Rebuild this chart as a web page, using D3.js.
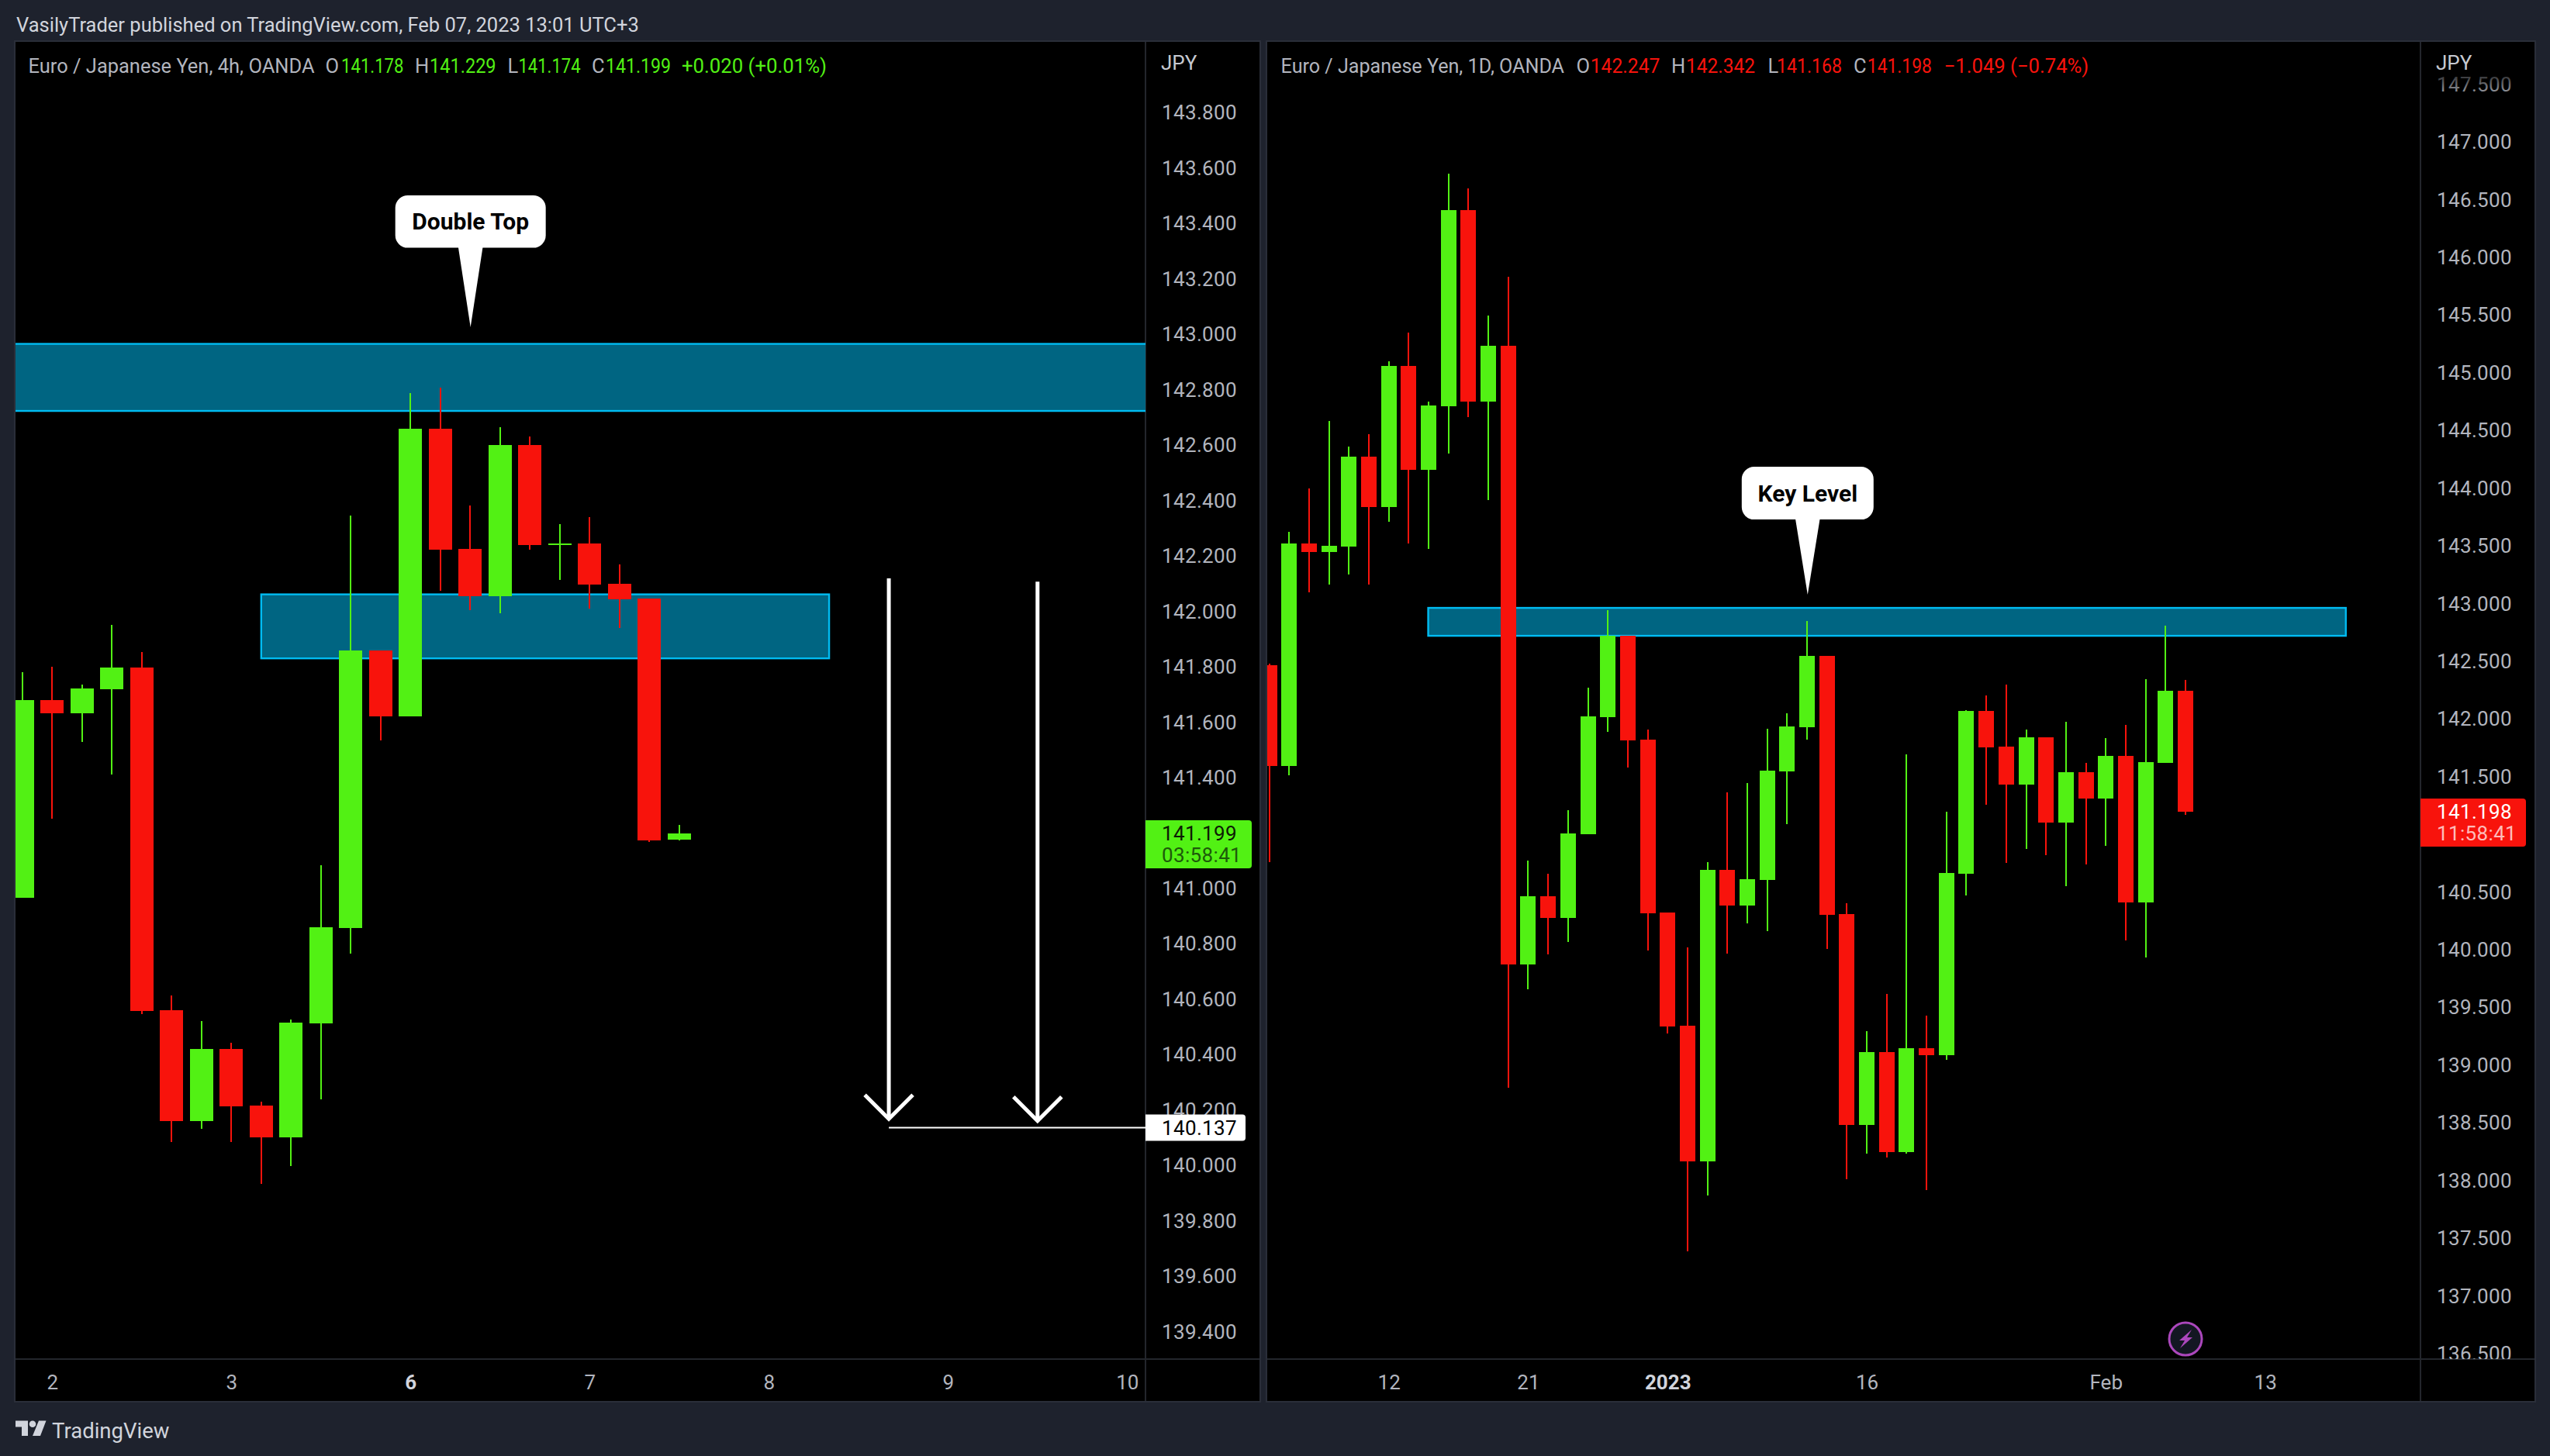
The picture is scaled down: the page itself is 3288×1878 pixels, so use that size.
<!DOCTYPE html>
<html><head><meta charset="utf-8">
<script src="https://cdn.jsdelivr.net/npm/d3@7/dist/d3.min.js"></script>
<style>html,body{margin:0;padding:0;background:#1e222d}svg{display:block}text{font-family:Roboto,"Noto Sans",sans-serif}</style>
</head><body><div id="c"></div>
<script>
// ---------- data: 4h panel ----------
const leftOpen  = [140.967,141.680,141.633,141.720,141.798,140.561,140.161,140.421,140.217,140.102,140.514,140.858,141.859,141.622,142.660,142.226,142.055,142.601,142.240,142.246,142.100,142.047,141.178];
const leftHigh  = [141.781,141.801,141.736,141.952,141.854,140.614,140.522,140.444,140.231,140.528,141.084,142.346,141.859,142.788,142.808,142.383,142.665,142.632,142.316,142.341,142.170,142.047,141.229];
const leftLow   = [140.967,141.252,141.529,141.412,140.547,140.086,140.133,140.086,139.934,139.999,140.239,140.765,141.535,141.622,142.075,142.006,141.994,142.223,142.114,142.010,141.941,141.168,141.174];
const leftClose = [141.680,141.633,141.722,141.798,140.558,140.161,140.421,140.214,140.102,140.516,140.861,141.859,141.622,142.660,142.223,142.055,142.601,142.240,142.246,142.097,142.044,141.174,141.199];
const leftPriceTicks = [143.8,143.6,143.4,143.2,143.0,142.8,142.6,142.4,142.2,142.0,141.8,141.6,141.4,141.2,141.0,140.8,140.6,140.4,140.2,140.0,139.8,139.6,139.4];
const leftTimeIdx = [1,7,13,19,25,31,37];
const leftTimeLabels = ["2","3","6","7","8","9","10"];
const leftBoldLabels = ["6"];
const leftZones = [[-1,60,142.966,142.724],[8.0,27.02,142.062,141.831]];
const leftArrows = [[29.02,142.12,140.169],[34.0,142.108,140.162]];
const targetPrice = 140.137;
const targetStartIdx = 29.02;
// ---------- data: 1D panel ----------
const rightOpen  = [142.467,141.594,143.522,143.448,143.495,144.274,143.838,145.060,144.160,144.711,146.411,144.751,145.235,139.874,140.465,140.277,141.002,142.017,142.722,141.822,140.324,139.343,138.167,140.693,140.384,140.606,141.547,141.929,142.548,140.310,138.483,139.114,138.248,139.148,139.088,140.660,142.071,141.761,141.432,141.842,141.103,141.540,141.311,141.681,140.411,141.620,142.247];
const rightHigh  = [142.480,143.623,143.999,144.583,144.362,144.469,145.101,145.349,144.751,146.727,146.599,145.497,145.833,140.774,140.660,141.211,142.272,142.944,142.722,141.909,140.324,140.021,140.760,141.365,141.446,141.916,142.050,142.850,142.548,140.404,139.296,139.618,141.694,139.430,141.197,142.077,142.205,142.299,141.909,141.842,141.977,141.620,141.835,141.950,142.346,142.810,142.342];
const rightLow   = [140.764,141.513,143.099,143.166,143.253,143.166,143.710,143.522,143.475,144.301,144.617,143.898,138.805,139.659,139.961,140.068,141.002,141.889,141.580,139.994,139.276,137.388,137.871,139.968,140.230,140.163,141.090,141.822,140.008,138.013,138.234,138.201,138.234,137.918,139.047,140.472,141.258,140.754,140.875,140.821,140.552,140.740,140.901,140.082,139.934,141.620,141.168];
const rightClose = [141.594,143.522,143.448,143.502,144.274,143.838,145.060,144.160,144.718,146.411,144.751,145.235,139.874,140.465,140.277,141.009,142.024,142.722,141.815,140.317,139.336,138.167,140.693,140.384,140.613,141.553,141.936,142.548,140.304,138.483,139.114,138.248,139.148,139.088,140.666,142.071,141.755,141.432,141.842,141.103,141.540,141.311,141.681,140.411,141.627,142.245,141.198];
const rightPriceTicks = [147.5,147,146.5,146,145.5,145,144.5,144,143.5,143,142.5,142,141.5,141,140.5,140,139.5,139,138.5,138,137.5,137,136.5];
const rightTimeIdx = [6,13,20,30,42,50];
const rightTimeLabels = ["12","21","2023","16","Feb","13"];
const rightBoldLabels = ["2023"];
const rightZones = [[7.98,54.05,142.964,142.722]];
// ---------- text ----------
const banner = "VasilyTrader published on TradingView.com, Feb 07, 2023 13:01 UTC+3";
const brand = "TradingView";
const currency = "JPY";
const leftLegend = ["Euro / Japanese Yen, 4h, OANDA","O","141.178","H","141.229","L","141.174","C","141.199","+0.020 (+0.01%)"];
const rightLegend = ["Euro / Japanese Yen, 1D, OANDA","O","142.247","H","142.342","L","141.168","C","141.198","\u22121.049 (\u22120.74%)"];
const leftCallout = {text:"Double Top", idx:15.01, price:143.026};
const rightCallout = {text:"Key Level", idx:27.03, price:143.078};
const leftLast = {price:141.199, countdown:"03:58:41"};
const rightLast = {price:141.198, countdown:"11:58:41"};

// ---------- style / layout ----------
const GREEN="#52f114", RED="#f8130c", ZONE="#006582", ZONEB="#00bcf2", BG="#1e222d", AX="#b2b5be", GRID="#23262c", EDGE="#2a2e39";
const W=3288,H=1878,TOP=54,AXY=1753,BOT=1807;
const F={banner:25.5,legend:25.5,axis:26,brand:27.5,call:30};
const svg=d3.select("#c").append("svg").attr("width",W).attr("height",H).attr("viewBox",`0 0 ${W} ${H}`);
svg.append("rect").attr("width",W).attr("height",H).attr("fill",BG);
const defs=svg.append("defs");

function panel(o){
  const g=svg.append("g");
  const cid=o.id+"clip", aid=o.id+"axclip";
  defs.append("clipPath").attr("id",cid).append("rect").attr("x",o.x0).attr("y",TOP).attr("width",o.ax-o.x0).attr("height",AXY-TOP);
  defs.append("clipPath").attr("id",aid).append("rect").attr("x",o.ax).attr("y",TOP).attr("width",o.x1-o.ax).attr("height",AXY-TOP);
  g.append("rect").attr("x",o.x0-1).attr("y",TOP-1).attr("width",o.x1-o.x0+2).attr("height",BOT-TOP+2).attr("fill","#000").attr("stroke",EDGE).attr("stroke-width",2);
  const y=d3.scaleLinear().domain(o.yDomain).range([AXY,TOP]);
  const x=d3.scaleLinear().domain(o.xDomain).range(o.xRange);
  // separators
  g.append("line").attr("x1",o.ax).attr("x2",o.ax).attr("y1",TOP).attr("y2",BOT).attr("stroke",GRID).attr("stroke-width",2);
  g.append("line").attr("x1",o.x0).attr("x2",o.x1).attr("y1",AXY).attr("y2",AXY).attr("stroke",GRID).attr("stroke-width",2);
  // price axis
  const ya=g.append("g").attr("clip-path",`url(#${aid})`).append("g").attr("transform",`translate(${o.ax},0)`)
    .call(d3.axisRight(y).tickValues(o.priceTicks).tickFormat(d3.format(".3f")).tickSize(0).tickPadding(o.labelX-o.ax));
  ya.select(".domain").remove();
  ya.selectAll("text").attr("fill",AX).attr("font-size",F.axis).attr("font-family","Roboto").attr("letter-spacing",o.ls);
  // time axis
  const xa=g.append("g").attr("transform",`translate(0,${AXY})`)
    .call(d3.axisBottom(x).tickValues(o.timeIdx).tickFormat((d,i)=>o.timeLabels[i]).tickSize(0).tickPadding(21));
  xa.select(".domain").remove();
  xa.selectAll("text").attr("fill",AX).attr("font-size",F.axis).attr("font-family","Roboto").attr("dy","0.71em")
    .attr("font-weight",(d,i)=>o.bold.includes(o.timeLabels[i])?700:400)
    .attr("fill",(d,i)=>o.bold.includes(o.timeLabels[i])?"#d1d4dc":AX);
  // JPY
  if(o.fade){
    const gr=defs.append("linearGradient").attr("id",o.id+"fade").attr("x1",0).attr("x2",0).attr("y1",0).attr("y2",1);
    gr.append("stop").attr("offset",0).attr("stop-color","#000").attr("stop-opacity",.85);
    gr.append("stop").attr("offset",1).attr("stop-color","#000").attr("stop-opacity",.05);
    g.append("rect").attr("x",o.ax+2).attr("y",92).attr("width",o.x1-o.ax-4).attr("height",32).attr("fill",`url(#${o.id}fade)`);
  }
  g.append("text").attr("x",o.labelX-1).attr("y",81).attr("dy","0.35em").attr("fill","#c6c9d1").attr("font-size",F.axis).text(currency);
  // plot
  const p=g.append("g").attr("clip-path",`url(#${cid})`);
  o.zones.forEach(z=>{
    p.append("rect").attr("x",x(z[0])).attr("y",y(z[2])).attr("width",x(z[1])-x(z[0])).attr("height",y(z[3])-y(z[2]))
     .attr("fill",ZONE).attr("stroke",ZONEB).attr("stroke-width",2.4);
  });
  const idx=d3.range(o.open.length);
  const col=i=>o.close[i]>=o.open[i]?GREEN:RED;
  p.append("g").selectAll("rect").data(idx).join("rect").attr("shape-rendering","crispEdges")
    .attr("x",i=>Math.round(x(i))-1).attr("width",2)
    .attr("y",i=>Math.round(y(o.high[i]))).attr("height",i=>Math.round(y(o.low[i]))-Math.round(y(o.high[i])))
    .attr("fill",col);
  p.append("g").selectAll("rect").data(idx).join("rect").attr("shape-rendering","crispEdges")
    .attr("x",i=>Math.round(x(i)-o.bw/2)).attr("width",o.bw)
    .attr("y",i=>Math.round(y(Math.max(o.open[i],o.close[i]))))
    .attr("height",i=>Math.max(2,Math.round(y(Math.min(o.open[i],o.close[i])))-Math.round(y(Math.max(o.open[i],o.close[i])))))
    .attr("fill",col);
  // legend
  o.legend.forEach((t,i)=>{
    const isLabel=i===0||i%2===1&&i<9;
    const el=g.append("text").attr("x",o.legendX[i]).attr("y",85).attr("dy","0.35em").attr("font-size",F.legend)
     .attr("fill",isLabel?"#b2b5be":o.legendColor).text(t);
    if(o.legendLen[i]) el.attr("textLength",o.legendLen[i]).attr("lengthAdjust","spacingAndGlyphs");
  });
  // callout
  const c=o.callout, tx=x(c.idx), ty=y(c.price);
  g.append("path").attr("fill","#fff").attr("d",`M${tx-16},${ty-o.cdrop-2} L${tx},${ty} L${tx+16},${ty-o.cdrop-2} Z`);
  g.append("rect").attr("x",tx-o.cw[0]).attr("y",ty-o.ch-o.cdrop).attr("width",o.cw[0]+o.cw[1]).attr("height",o.ch).attr("rx",16).attr("fill","#fff");
  g.append("text").attr("x",tx).attr("y",ty-o.ch/2-o.cdrop).attr("dy","0.35em").attr("text-anchor","middle").attr("font-weight",700).attr("font-size",F.call).attr("fill","#000").text(c.text);
  // last-price tag
  const ly=y(o.last.price);
  g.append("path").attr("fill",o.tagFill).attr("d",`M${o.ax},${ly-o.tagUp} H${o.tagR-4} Q${o.tagR},${ly-o.tagUp} ${o.tagR},${ly-o.tagUp+4} V${ly+o.tagDn-4} Q${o.tagR},${ly+o.tagDn} ${o.tagR-4},${ly+o.tagDn} H${o.ax} Z`);
  g.append("text").attr("x",o.labelX).attr("y",ly).attr("dy","0.35em").attr("font-size",F.axis).attr("letter-spacing",o.ls).attr("fill",o.tagText).text(d3.format(".3f")(o.last.price));
  g.append("text").attr("x",o.labelX).attr("y",ly+28).attr("dy","0.35em").attr("font-size",F.axis).attr("letter-spacing",o.ls).attr("fill",o.tagSub).text(o.last.countdown);
  return {g,x,y,p};
}

// ---------- left panel ----------
const L=panel({id:"l",x0:20,x1:1624,ax:1477,labelX:1498,ls:0.35,
  yDomain:[139.302,144.056],xDomain:[0,22],xRange:[28.8,875.8],bw:30,
  open:leftOpen,high:leftHigh,low:leftLow,close:leftClose,priceTicks:leftPriceTicks,
  timeIdx:leftTimeIdx,timeLabels:leftTimeLabels,bold:leftBoldLabels,zones:leftZones,
  legend:leftLegend,legendColor:GREEN,legendX:[36.5,419.5,440,535,554,654.5,668.5,763,781,879],
  legendLen:[369,0,80.5,0,85.6,0,80,0,84,187],
  callout:leftCallout,cw:[97,97],ch:67.5,cdrop:102.5,last:leftLast,tagFill:GREEN,tagR:1614,tagUp:17,tagDn:45,tagText:"#0d1a05",tagSub:"#1d5a0a"});
// arrows and target
leftArrows.forEach(a=>{
  const ax=L.x(a[0]), t=L.y(a[1]), b=L.y(a[2]);
  L.p.append("line").attr("x1",ax).attr("x2",ax).attr("y1",t).attr("y2",b).attr("stroke","#fff").attr("stroke-width",5);
  L.p.append("path").attr("d",`M${ax-31},${b-31} L${ax},${b} L${ax+31},${b-31}`).attr("fill","none").attr("stroke","#fff").attr("stroke-width",5);
});
const ty=L.y(targetPrice);
L.g.append("line").attr("x1",L.x(targetStartIdx)).attr("x2",1477).attr("y1",ty).attr("y2",ty).attr("stroke","#fff").attr("stroke-width",2);
L.g.append("path").attr("fill","#fff").attr("d",`M1477,${ty-17} H1602 Q1606,${ty-17} 1606,${ty-13} V${ty+13} Q1606,${ty+17} 1602,${ty+17} H1477 Z`);
L.g.append("text").attr("x",1498).attr("y",ty).attr("dy","0.35em").attr("font-size",F.axis).attr("letter-spacing",0.35).attr("fill","#000").text(d3.format(".3f")(targetPrice));

// ---------- right panel ----------
const R=panel({id:"r",x0:1634,x1:3268,ax:3121,labelX:3142,ls:0.35,fade:true,
  yDomain:[136.454,147.869],xDomain:[0,46],xRange:[1636.6,2818],bw:20,
  open:rightOpen,high:rightHigh,low:rightLow,close:rightClose,priceTicks:rightPriceTicks,
  timeIdx:rightTimeIdx,timeLabels:rightTimeLabels,bold:rightBoldLabels,zones:rightZones,
  legend:rightLegend,legendColor:RED,legendX:[1651.6,2032.5,2050.7,2155,2174,2279.4,2291,2390,2407.8,2506.7],
  legendLen:[365.4,0,89.8,0,89,0,84,0,83,186.6],
  callout:rightCallout,cw:[85,85],ch:68,cdrop:97,last:rightLast,tagFill:RED,tagR:3257,tagUp:17,tagDn:45,tagText:"#fff",tagSub:"rgba(255,255,255,.72)"});
// lightning badge
const bx=R.x(46),by=1727;
R.g.append("ellipse").attr("cx",bx).attr("cy",by).attr("rx",21).attr("ry",21).attr("fill","#131722").attr("stroke","#ab47bc").attr("stroke-width",3);
R.g.append("path").attr("fill","#ab47bc").attr("d",`M${bx+8},${by-12} L${bx-8},${by+2} L${bx-1},${by+2} L${bx-7},${by+12} L${bx+9},${by-2} L${bx+2},${by-2} Z`);

// ---------- chrome ----------
svg.append("text").attr("x",21).attr("y",32).attr("dy","0.35em").attr("font-size",F.banner).attr("fill","#d1d4dc").text(banner);
const logo=svg.append("g").attr("fill","#d1d4dc");
logo.append("path").attr("d","M20,1832.5 H36 V1852 H28 V1840.5 H20 Z");
logo.append("circle").attr("cx",42).attr("cy",1836.7).attr("r",4.3);
logo.append("path").attr("d","M50,1832.5 H59.5 L52,1852 H42 Z");
svg.append("text").attr("x",67).attr("y",1845).attr("dy","0.35em").attr("font-size",F.brand).attr("fill","#d1d4dc").text(brand);
</script></body></html>
